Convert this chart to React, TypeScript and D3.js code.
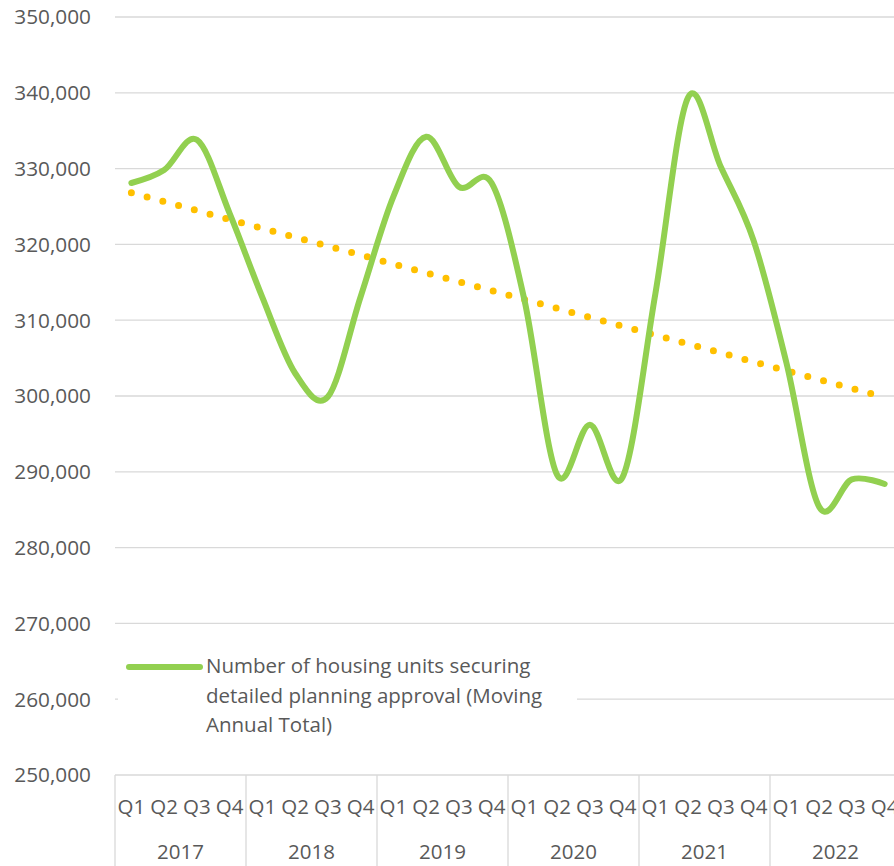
import React from "react";
import * as d3 from "d3";

const years = ["2017", "2018", "2019", "2020", "2021", "2022"];
const quarters = ["Q1", "Q2", "Q3", "Q4"];
const approvals = [
  328100, 329800, 333800, 324100,
  313000, 303000, 299900, 313100,
  326300, 334200, 327600, 328100,
  312700, 289600, 296200, 289300,
  313500, 339400, 330200, 320500,
  304400, 285400, 289000, 288400,
];
const yTicks = [250000, 260000, 270000, 280000, 290000, 300000, 310000, 320000, 330000, 340000, 350000];
const legendLines = [
  "Number of housing units securing",
  "detailed planning approval (Moving",
  "Annual Total)",
];

const W = 894;
const H = 866;
const FONT = "'Open Sans', 'Noto Sans', sans-serif";
const TEXT = "#595959";
const GRID = "#d9d9d9";

export default function App() {
  const cats = years.flatMap((y) => quarters.map((q) => `${y}-${q}`));
  const x = d3.scaleBand<string>().domain(cats).range([115, 901]);
  const xc = (i: number) => (x(cats[i]) as number) + x.bandwidth() / 2;
  const y = d3.scaleLinear().domain([250000, 350000]).range([775, 17]);

  const line = d3
    .line<number>()
    .x((_, i) => xc(i))
    .y((d) => y(d))
    .curve(d3.curveCardinal.tension(0));

  // linear trendline (least squares)
  const n = approvals.length;
  const mx = (n - 1) / 2;
  const my = d3.mean(approvals) as number;
  let sxy = 0, sxx = 0;
  approvals.forEach((v, i) => {
    sxy += (i - mx) * (v - my);
    sxx += (i - mx) * (i - mx);
  });
  const slope = sxy / sxx;
  const t0 = my - slope * mx;
  const t1 = my + slope * (n - 1 - mx);

  const yearW = x.bandwidth() * 4;

  return (
    <svg
      width={W}
      height={H}
      style={{ position: "absolute", left: 0, top: 0, background: "#fff" }}
      fontFamily={FONT}
    >
      {yTicks.map((t) => (
        <line key={t} x1={115} x2={901} y1={y(t)} y2={y(t)} stroke={GRID} strokeWidth={1.3} />
      ))}
      {yTicks.map((t) => (
        <text key={"l" + t} x={91} y={y(t)} dy="0.36em" textAnchor="end" fontSize={20.8} fill={TEXT}>
          {d3.format(",")(t)}
        </text>
      ))}
      {years.map((yr, k) => (
        <line
          key={"s" + yr}
          x1={115 + k * yearW}
          x2={115 + k * yearW}
          y1={775}
          y2={H}
          stroke={GRID}
          strokeWidth={1.3}
        />
      ))}
      {cats.map((c, i) => (
        <text key={c} x={xc(i)} y={807} dy="0.36em" textAnchor="middle" fontSize={20.5} fill={TEXT}>
          {quarters[i % 4]}
        </text>
      ))}
      {years.map((yr, k) => (
        <text key={"y" + yr} x={115 + (k + 0.5) * yearW} y={852} dy="0.36em" textAnchor="middle" fontSize={20.5} fill={TEXT}>
          {yr}
        </text>
      ))}
      <rect x={118} y={640} width={459} height={105} fill="#fff" />
      <line
        x1={xc(0)}
        y1={y(t0)}
        x2={xc(n - 1)}
        y2={y(t1)}
        stroke="#FFC000"
        strokeWidth={7}
        strokeLinecap="round"
        strokeDasharray="0 16.3"
      />
      <path d={line(approvals) || ""} fill="none" stroke="#92D050" strokeWidth={6} strokeLinejoin="round" strokeLinecap="round" />
      <line x1={129} x2={200} y1={667} y2={667} stroke="#92D050" strokeWidth={6} strokeLinecap="round" />
      {legendLines.map((s, i) => (
        <text key={s} x={206} y={673 + i * 29.5} fontSize={20.5} fill={TEXT}>
          {s}
        </text>
      ))}
    </svg>
  );
}
